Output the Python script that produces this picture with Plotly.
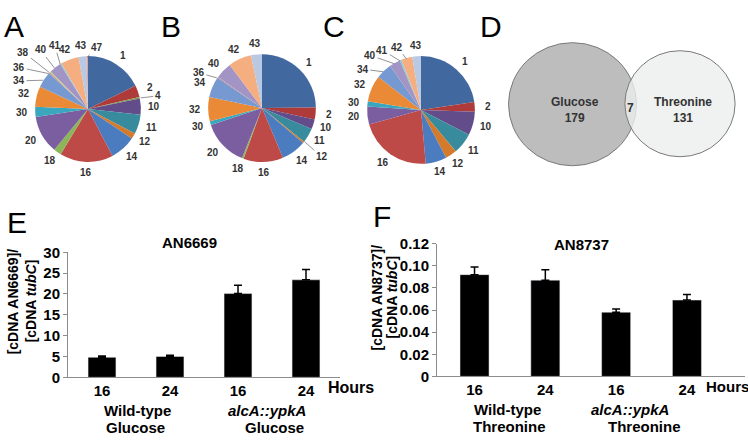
import plotly.graph_objects as go
import math

W, H = 748, 444
FONT = "Liberation Sans, Arial, sans-serif"

# ---------------- data ----------------
pieA_labels = ["1", "2", "4", "10", "11", "12", "14", "16", "18", "20", "30", "32", "34", "36", "38", "40", "41", "42", "43", "47"]
pieA_values = [18, 3.6, 0.5, 5, 6, 1.8, 8, 16.5, 2.4, 11.7, 3.2, 6.3, 4.9, 0.4, 0.4, 3.7, 0.4, 5.6, 2.4, 0.5]

pieB_labels = ["1", "2", "10", "11", "12", "14", "16", "18", "20", "30", "32", "34", "36", "40", "42", "43"]
pieB_values = [25, 3.6, 3, 4.4, 0.5, 7.5, 12, 0.5, 14, 1.1, 7.3, 6.3, 0.3, 5, 7, 3.3]

pieC_labels = ["1", "2", "10", "11", "12", "14", "16", "20", "30", "32", "34", "40", "41", "42", "43"]
pieC_values = [22.6, 2.9, 7, 6.3, 3.4, 6.3, 22, 5.4, 1.5, 7.9, 4.8, 3.3, 0.5, 3.3, 2.6]

venn_sets = ["Glucose", "Threonine"]
venn_only = [179, 131]
venn_shared = 7

bar_ticks = ["16", "24", "16", "24"]
E_values = [4.8, 5.0, 20.1, 23.4]
E_errors = [0.3, 0.3, 2.0, 2.5]
F_values = [0.092, 0.087, 0.058, 0.069]
F_errors = [0.007, 0.0095, 0.003, 0.005]
E_ticks = [0, 5, 10, 15, 20, 25, 30]
F_ticks = [0, 0.02, 0.04, 0.06, 0.08, 0.10, 0.12]
F_ticktext = ["0", "0.02", "0.04", "0.06", "0.08", "0.10", "0.12"]

slice_colors = {
    "1": "#41699F", "2": "#AE3B3A", "4": "#7E9B4A", "10": "#634C8A", "11": "#388B9C",
    "12": "#D47A2C", "14": "#4B7CC0", "16": "#BD4A47", "18": "#8DB558", "20": "#7B5EA0",
    "30": "#3AA7BF", "32": "#EB8A36", "34": "#7599D0", "36": "#C98A86", "38": "#B7CE8C",
    "40": "#A294C4", "41": "#8CCAD8", "42": "#F5AE7F", "43": "#B9C8E3", "47": "#D9A6A4",
}

# label placement for crowded slices: (angle in degrees clockwise from 12 o'clock, distance in px)
pieA_label_moves = {"4": (79, 71), "34": (293, 75), "36": (302, 81), "38": (312, 87),
                    "40": (322, 77), "41": (333, 73), "47": (8, 64)}
pieB_label_moves = {"12": (130, 78), "36": (300, 73)}
pieC_label_moves = {"34": (306, 72), "40": (318, 76), "41": (328, 73), "42": (340, 69)}


def px(x):
    return x / W


def py(y):
    return 1 - y / H


def dom(cx, cy, r):
    return dict(x=[px(cx - r), px(cx + r)], y=[py(cy + r), py(cy - r)])


fig = go.Figure()
ann = []


def text(x, y, s, size=14, bold=True, color="black", angle=0, xanchor="center"):
    ann.append(dict(x=px(x), y=py(y), xref="paper", yref="paper", text=s, showarrow=False,
                    xanchor=xanchor, yanchor="middle", textangle=angle,
                    font=dict(family=FONT, size=size, color=color, weight="bold" if bold else "normal")))


pies = [
    (pieA_labels, pieA_values, (88, 104, 55), pieA_label_moves),
    (pieB_labels, pieB_values, (262, 103, 56), pieB_label_moves),
    (pieC_labels, pieC_values, (421, 105, 56), pieC_label_moves),
]
for labels, values, (cx, cy, r), moves in pies:
    fig.add_trace(go.Pie(
        labels=labels, values=values, sort=False, direction="clockwise", rotation=0,
        marker=dict(colors=[slice_colors[l] for l in labels], line=dict(width=0)),
        textinfo="none", domain=dom(cx, cy, r), showlegend=False, hoverinfo="label+value",
    ))
    total = sum(values)
    cum = 0
    for l, v in zip(labels, values):
        mid = (cum + v / 2) / total * 360
        cum += v
        if l in moves:
            ang, dist = moves[l]
        else:
            ang, dist = mid, r + 11
        lx = cx + dist * math.sin(math.radians(ang))
        ly = cy - dist * math.cos(math.radians(ang))
        if l in moves:
            ex = cx + (r - 1) * math.sin(math.radians(mid))
            ey = cy - (r - 1) * math.cos(math.radians(mid))
            ann.append(dict(x=px(ex), y=py(ey), xref="paper", yref="paper", text=l,
                            showarrow=True, arrowhead=0, arrowwidth=0.8, arrowcolor="#777777",
                            ax=lx - ex, ay=ly - ey, standoff=0,
                            font=dict(family=FONT, size=10, color="#333333", weight="bold")))
        else:
            text(lx, ly, l, size=10, color="#333333")

# ---------------- bars ----------------
fig.add_trace(go.Bar(
    x=list(range(4)), y=E_values, width=0.41, marker=dict(color="black"),
    error_y=dict(type="data", array=E_errors, arrayminus=[0] * 4, symmetric=False,
                 color="black", thickness=1.5, width=4),
    xaxis="x", yaxis="y", showlegend=False,
))
fig.add_trace(go.Bar(
    x=list(range(4)), y=F_values, width=0.41, marker=dict(color="black"),
    error_y=dict(type="data", array=F_errors, arrayminus=[0] * 4, symmetric=False,
                 color="black", thickness=1.5, width=4),
    xaxis="x2", yaxis="y2", showlegend=False,
))

tickfont = dict(family=FONT, size=15, color="black", weight="bold")
axis_common = dict(showline=True, linecolor="#8c8c8c", linewidth=1, showgrid=False, zeroline=False,
                   tickfont=tickfont)

fig.update_layout(
    xaxis=dict(domain=[px(68), px(340)], range=[-0.5, 3.5], tickvals=list(range(4)), ticktext=bar_ticks,
               ticks="", anchor="y", **axis_common),
    yaxis=dict(domain=[py(383), py(253)], range=[0, 30], tickvals=E_ticks, ticks="outside", ticklen=4,
               tickcolor="#8c8c8c", anchor="x", **axis_common),
    xaxis2=dict(domain=[px(437), px(745)], range=[-0.53, 3.82], tickvals=list(range(4)), ticktext=bar_ticks,
                ticks="", anchor="y2", **axis_common),
    yaxis2=dict(domain=[py(382), py(244)], range=[0, 0.12], tickvals=F_ticks, ticktext=F_ticktext,
                ticks="outside", ticklen=4, tickcolor="#8c8c8c", anchor="x2", **axis_common),
)

# ---------------- venn ----------------
k = 64 / math.sqrt(venn_only[0] + venn_shared)
rL = k * math.sqrt(venn_only[0] + venn_shared)
rR = k * math.sqrt(venn_only[1] + venn_shared)
cL = (572.5, 99)
cR = (680, 98.5)
shapes = [
    dict(type="circle", xref="paper", yref="paper",
         x0=px(cL[0] - rL), x1=px(cL[0] + rL), y0=py(cL[1] + rL), y1=py(cL[1] - rL),
         fillcolor="#BDBDBD", line=dict(color="#7a7a7a", width=1), layer="below"),
    dict(type="circle", xref="paper", yref="paper",
         x0=px(cR[0] - rR), x1=px(cR[0] + rR), y0=py(cR[1] + rR), y1=py(cR[1] - rR),
         fillcolor="rgba(236,237,238,0.8)", line=dict(color="#7a7a7a", width=1), layer="below"),
]

text(cL[0] + 2, 105, f"{venn_sets[0]}<br>{venn_only[0]}", size=12, color="#333333")
text(630, 103, f"{venn_shared}", size=12, color="#333333")
text(683, 105, f"{venn_sets[1]}<br>{venn_only[1]}", size=12, color="#333333")

# panel letters
for letter, x, y in [("A", 14, 18), ("B", 171, 18), ("C", 334, 18), ("D", 491, 18), ("E", 17, 222), ("F", 382, 216)]:
    text(x, y, letter, size=30, bold=False)

# bar chart titles and labels
text(189, 243, "AN6669", size=15)
text(581, 245, "AN8737", size=15)
text(13, 304, "[cDNA AN6669]/", size=14, angle=-90)
text(31, 304, "[cDNA <i>tubC</i>]", size=14, angle=-90)
text(377, 300, "[cDNA AN8737]/", size=14, angle=-90)
text(392, 300, "[cDNA <i>tubC</i>]", size=14, angle=-90)
text(326, 394, "Hours", size=16, xanchor="left")
text(704, 393, "Hours", size=15, xanchor="left")
text(137, 417, "Wild-type", size=15)
text(135, 435, "Glucose", size=15)
text(267, 417, "<i>alcA::ypkA</i>", size=15)
text(274, 435, "Glucose", size=15)
text(507, 416, "Wild-type", size=15)
text(509, 434, "Threonine", size=15)
text(630, 416, "<i>alcA::ypkA</i>", size=15)
text(644, 434, "Threonine", size=15)

fig.update_layout(
    width=W, height=H, margin=dict(l=0, r=0, t=0, b=0),
    paper_bgcolor="white", plot_bgcolor="white",
    shapes=shapes, annotations=ann,
    font=dict(family=FONT),
)

fig.write_html("out.html", config={"displayModeBar": False},
               post_script="document.body.style.margin='0';")
